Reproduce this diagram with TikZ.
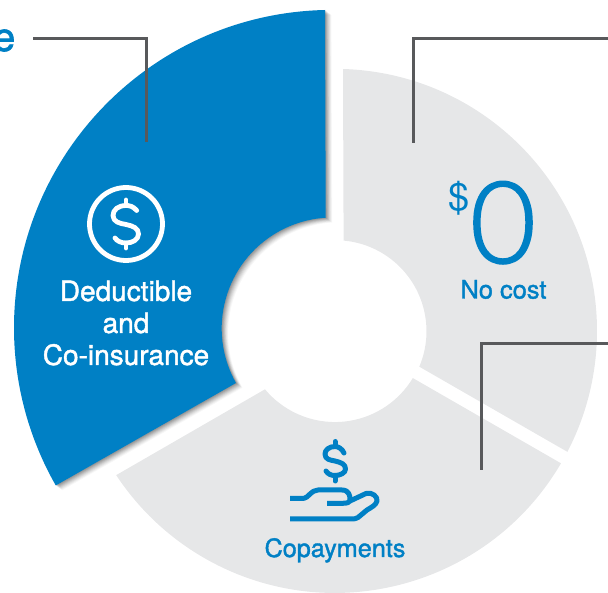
\documentclass[tikz,border=0pt]{standalone}
\usepackage{fontspec}
\setmainfont{TeX Gyre Heros}
\newfontfamily\lightf[FakeBold=1.6]{Lato Light}
\newfontfamily\medf[FakeBold=1.5]{TeX Gyre Heros}
\usetikzlibrary{calc}
\definecolor{mblue}{HTML}{0080C5}
\definecolor{mgray}{HTML}{E6E7E8}
\definecolor{mline}{HTML}{58595B}
\tikzset{
  x=1pt,y=1pt,
  leader/.style={draw=mline,line width=3pt,line join=miter},
  iconw/.style={draw=white,line width=4.8pt,line cap=round,line join=round},
  iconb/.style={draw=mblue,line width=5pt,line cap=round,line join=round},
  lblw/.style={text=white,font=\medf\fontsize{28}{32}\selectfont,align=center,inner sep=0pt},
  lblb/.style={text=mblue,inner sep=0pt},
}
\newcommand{\bluepath}{(325,582) arc[start angle=91.26,end angle=209.7,radius=318] -- (236,209) arc[start angle=209.4,end angle=93.6,radius=111] -- cycle}
\begin{document}
\begin{tikzpicture}
\useasboundingbox (0,0) rectangle (608,592);
% gray segments
\fill[mgray] (343,523) arc[start angle=88.25,end angle=-27.5,radius=262] -- (419.3,225.3) arc[start angle=-22.95,end angle=84.9,radius=91] -- cycle;
\fill[mgray] (561,128.7) arc[start angle=-30.35,end angle=-146.6,radius=262] -- (265,202.7) arc[start angle=-140.2,end angle=-31.1,radius=91] -- cycle;
% shadow
\foreach \d/\o in {8/.03,7/.04,6/.05,5/.06,4/.07,3/.08,2/.09,1/.09}{
  \fill[black,opacity=\o,shift={(\d*0.8,-\d*0.6)}] \bluepath;
}
\fill[mblue] \bluepath;
% leaders
\coordinate (a1) at (33,553); \coordinate (a2) at (146,553); \coordinate (a3) at (146,450);
\coordinate (b1) at (608,553); \coordinate (b2) at (413,553); \coordinate (b3) at (413,449);
\coordinate (c1) at (608,248); \coordinate (c2) at (481,248); \coordinate (c3) at (481,122);
\draw[leader] (a1) -- (a2) -- (a3);
\draw[leader] (b1) -- (b2) -- (b3);
\draw[leader] (c1) -- (c2) -- (c3);
% cut label
\node[lblb,anchor=base east,font=\medf\fontsize{40}{40}\selectfont] (cut) at (15.5,541) {e};
% deductible icon
\draw[iconw] (126,368) circle[radius=36.5];
\draw[iconw] (136.7,381.5) .. controls (133,386) and (129,386.5) .. (126,386.5) .. controls (118,386.5) and (113,382) .. (113,376.5) .. controls (113,370) and (120,368.5) .. (126,367.5) .. controls (133,366) and (138.5,364) .. (138.5,358) .. controls (138.5,352) and (132,349) .. (126,349) .. controls (121,349) and (117,351) .. (115,354);
\draw[iconw] (126,392) -- (126,386.5) (126,349) -- (126,344);
\node[lblw] (ded) at (126,269) {Deductible\\and\\Co-insurance};
% no cost
\node[lblb,font=\fontsize{38}{38}\selectfont,anchor=base west] (dollar) at (448.5,381) {\$};
\node[lblb,font=\lightf\fontsize{114}{114}\selectfont,anchor=base] (zero) at (503,329) {0};
\node[lblb,font=\medf\fontsize{25.4}{26}\selectfont,anchor=base] (nocost) at (503.5,293.5) {No cost};
% copay icon
\draw[iconb] (335,150.5) -- (335,145.5);
\draw[iconb] (335,116.5) -- (335,111);
\draw[iconb] (344,139) .. controls (342,143.5) and (338,145.5) .. (335,145.5) .. controls (329,145.5) and (325,142) .. (325,138) .. controls (325,132.5) and (330,132) .. (335,131) .. controls (341,129.5) and (345.5,128) .. (345.5,123) .. controls (345.5,119) and (340,116.5) .. (335,116.5) .. controls (331,116.5) and (328,118) .. (326,121);
\draw[iconb,line cap=butt] (290,93.7) -- (304,93.7) .. controls (308,93.7) and (311,102) .. (318,102) -- (342,102) .. controls (349,102) and (350,96) .. (350,93) .. controls (350,89) and (347,88.7) .. (342,88.7) -- (327,88.7);
\draw[iconb,line cap=butt] (350,91) -- (366,98.5) .. controls (372,100.5) and (378,95) .. (377,91) .. controls (376,87) and (372,85) .. (367,82) -- (358,74.5) .. controls (356,73.5) and (355,73) .. (351,73) -- (290,73);
\node[lblb,font=\medf\fontsize{25.2}{26}\selectfont,anchor=base] (copay) at (335,35) {Copayments};
\end{tikzpicture}
\end{document}
